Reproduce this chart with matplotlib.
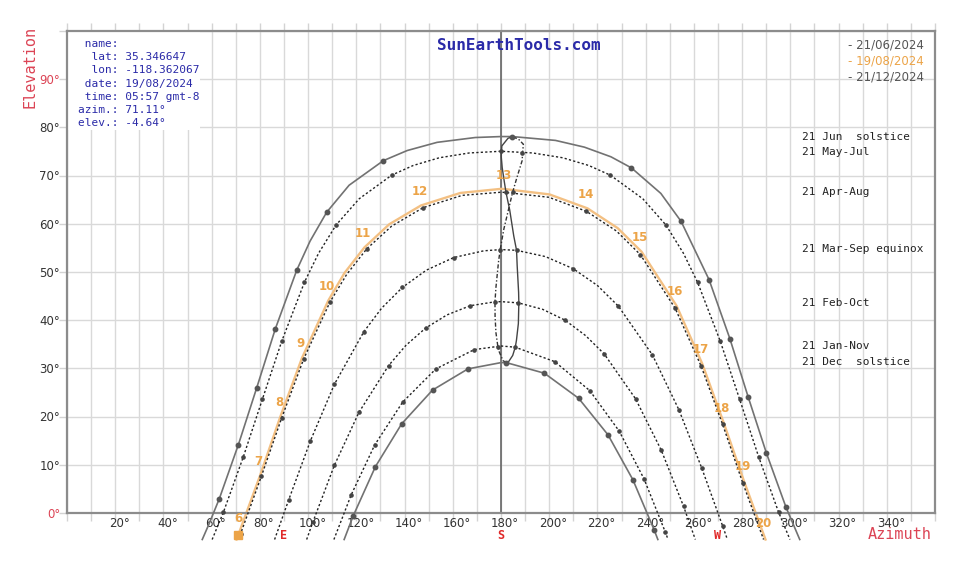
import numpy as np
import matplotlib.pyplot as plt
from matplotlib.patches import Rectangle

nan = np.nan

# sun paths: clock hour (nan = path point without hour mark),
# azimuth (deg) and elevation (deg)
jun_hour = [nan, 5.5, 6, 7, 8, 9, 10, 10.5, 11, 11.5, 12, nan, 12.5, nan, nan, 13, nan,
            13.5, nan, 14, 14.5, 15, 16, 17, 18, 19, 20, nan]
jun_az = [56.1, 58.8, 63.2, 71.1, 78.7, 86.4, 95.3, 100.8, 107.7, 117.0, 131.2, 141.1, 153.5,
          169.3, 180.0, 184.7, 202.6, 214.6, 225.6, 234.1, 246.3, 254.7, 266.3, 274.9, 282.5,
          290.1, 298.2, 303.9]
jun_el = [-5.5, -2.4, 3.0, 14.2, 26.0, 38.2, 50.4, 56.4, 62.4, 68.0, 73.1, 75.2, 76.9, 77.9,
          78.1, 78.1, 77.3, 75.9, 73.9, 71.6, 66.3, 60.5, 48.4, 36.2, 24.1, 12.4, 1.2, -5.5]

mayjul_hour = [nan, 6, 7, 8, 9, 10, 10.5, 11, 11.5, 12, nan, 12.5, nan, 13, nan, 13.5, nan,
               14, 14.5, 15, 15.5, 16, 17, 18, 19, 20, nan]
mayjul_az = [60.2, 64.9, 73.1, 81.0, 89.1, 98.5, 104.35, 111.6, 121.2, 134.7, 143.6, 154.4,
             166.9, 180.0, 193.1, 205.6, 216.4, 225.3, 238.8, 248.4, 255.65, 261.5, 270.9,
             279.0, 286.9, 295.1, 299.85]
mayjul_el = [-5.5, 0.2, 11.6, 23.55, 35.7, 47.9, 53.9, 59.75, 65.2, 70.1, 72.1, 73.7, 74.7,
             75.05, 74.7, 73.7, 72.1, 70.1, 65.2, 59.75, 53.9, 47.9, 35.7, 23.55, 11.6, 0.2, -5.5]

apraug_hour = [nan, 6, 7, 8, 9, 10, 10.5, 11, 11.5, 12, 12.5, nan, 13, 13.5, 14, 14.5, 15,
               16, 17, 18, 19, nan]
apraug_az = [71.1, 72.0, 80.6, 89.1, 98.2, 109.1, 116.0, 124.3, 134.6, 147.7, 163.9, 180.0,
             182.1, 199.9, 215.4, 227.9, 237.8, 252.2, 262.9, 271.9, 280.3, 288.9]
apraug_el = [-5.5, -4.3, 7.6, 19.8, 32.0, 43.8, 49.5, 54.8, 59.5, 63.35, 65.9, 66.55, 66.5,
             65.5, 62.6, 58.5, 53.6, 42.5, 30.6, 18.4, 6.2, -5.5]

aug19_hour = [nan, 6, 7, 8, 9, 10, 10.5, 11, 11.5, 12, 12.5, nan, 13, 13.5, 14, 14.5, 15,
              16, 17, 18, 19, 20, nan]
aug19_az = [70.3, 71.45, 80.1, 88.5, 97.5, 108.4, 115.1, 123.35, 133.65, 146.8, 163.15, 180.0,
            181.7, 200.1, 215.9, 228.4, 238.3, 252.8, 263.4, 272.3, 280.7, 289.4, 289.7]
aug19_el = [-5.5, -4.0, 7.8, 20.0, 32.2, 44.1, 49.8, 55.1, 59.9, 63.8, 66.4, 67.25, 67.2,
            66.1, 63.2, 59.1, 54.2, 43.0, 31.05, 18.8, 6.7, -5.1, -5.5]

marsep_hour = [nan, 7, 8, 9, 10, 10.5, 11, 11.5, 12, 12.5, nan, 13, 13.5, 14, 14.5, 15, 16,
               17, 18, 19, nan]
marsep_az = [86.1, 92.0, 100.9, 110.9, 123.1, 130.5, 139.1, 149.1, 160.4, 172.9, 180.0,
             186.45, 198.4, 209.9, 220.0, 228.7, 242.8, 253.8, 263.2, 272.0, 273.9]
marsep_el = [-5.5, 2.8, 14.9, 26.7, 37.6, 42.5, 46.8, 50.4, 53.0, 54.4, 54.65, 54.5, 53.2,
             50.7, 47.2, 42.9, 32.8, 21.4, 9.4, -2.8, -5.5]

febokt_hour = [nan, 7, 8, 9, 10, 10.5, 11, 11.5, 12, 12.5, nan, 13, 13.5, 14, 14.5, 15, 16,
               17, 18, nan]
febokt_az = [99.4, 102.0, 110.9, 121.1, 133.4, 140.6, 148.7, 157.6, 167.2, 177.3, 180.0,
             187.2, 197.3, 206.6, 215.1, 222.8, 235.8, 246.5, 255.7, 260.6]
febokt_el = [-5.5, -1.85, 9.9, 20.9, 30.6, 34.8, 38.35, 41.1, 43.0, 43.8, 43.85, 43.6, 42.25,
             40.0, 36.8, 33.0, 23.7, 13.0, 1.4, -5.5]

jannov_hour = [nan, 7, 8, 9, 10, 11, nan, 12, 13, 14, 15, 16, 17, nan]
jannov_az = [110.7, 117.9, 127.6, 139.2, 153.0, 168.9, 180.0, 185.9, 202.3, 216.8, 229.0,
             239.3, 248.1, 249.3]
jannov_el = [-5.5, 3.8, 14.1, 23.0, 29.9, 33.9, 34.65, 34.4, 31.4, 25.4, 17.0, 7.1, -3.9, -5.5]

dec_hour = [nan, 7, 8, 9, 10, 11, nan, 12, 13, 14, 15, 16, 17, nan]
dec_az = [114.95, 118.7, 127.9, 138.8, 151.6, 166.3, 180.0, 182.2, 198.0, 212.2, 224.4,
          234.7, 243.6, 245.05]
dec_el = [-5.5, -0.6, 9.6, 18.5, 25.5, 29.9, 31.2, 31.2, 29.0, 23.8, 16.2, 6.9, -3.6, -5.5]

# analemma, June -> December half (solid) and December -> June half (dash-dot)
ana1_az = [184.7, 182.9, 180.35, 180.07, 180.5, 181.4, 182.06, 183.6, 185.3, 186.45, 186.7,
           187.3, 187.4, 187.2, 186.4, 185.93, 184.85, 183.0, 182.17]
ana1_el = [78.06, 77.74, 76.15, 74.05, 71.65, 68.64, 66.54, 62.9, 57.45, 54.5, 51.4, 45.8,
           43.6, 39.3, 35.8, 34.43, 32.68, 31.28, 31.17]
ana2_az = [182.17, 180.8, 179.26, 178.7, 177.9, 177.55, 177.5, 177.9, 179.0, 179.67, 181.2,
           183.7, 184.8, 186.6, 188.8, 188.9, 189.3, 187.25, 184.7]
ana2_el = [31.17, 31.64, 33.45, 34.52, 37.42, 40.72, 43.8, 46.8, 52.25, 54.65, 58.95, 64.2,
           66.5, 69.6, 73.16, 74.59, 76.49, 77.56, 78.06]
ana2_mark_az = [178.7, 177.5, 179.67, 184.8, 188.9]
ana2_mark_el = [34.52, 43.8, 54.65, 66.5, 74.59]

sun_now = (71.11, -4.64)

info_lines = [" name:", "  lat: 35.346647", "  lon: -118.362067", " date: 19/08/2024",
              " time: 05:57 gmt-8", "azim.: 71.11°", "elev.: -4.64°"]
legend_dates = ["- 21/06/2024", "- 19/08/2024", "- 21/12/2024"]
day_labels = ["21 Jun  solstice", "21 May-Jul", "21 Apr-Aug", "21 Mar-Sep equinox",
              "21 Feb-Oct", "21 Jan-Nov", "21 Dec  solstice"]
day_label_el = [78.1, 74.9, 66.6, 54.8, 43.6, 34.6, 31.4]

ORANGE = '#eca448'
RED = '#dc4455'
BLUE = '#2a2aa8'
mono = 'DejaVu Sans Mono'

fig = plt.figure(figsize=(9.58, 5.74), dpi=100)
ax = fig.add_axes([67 / 958, 1 - 513 / 574, 868 / 958, 482 / 574])
ax.set_xlim(0, 360)
ax.set_ylim(0, 100)
ax.set_axisbelow(True)
ax.grid(color='#d9d9d9', lw=1)
ax.axvline(180, color='#5a5a5a', lw=1.1, zorder=1.2)
for s in ax.spines.values():
    s.set_color('#8c8c8c')
    s.set_linewidth(1.6)

ax.set_xticks(np.arange(0, 361, 10))
ax.set_yticks(np.arange(0, 101, 10))
ax.tick_params(direction='out', length=6, color='#d3d3d3', width=1,
               top=True, labelbottom=False, labelleft=False)

# axis labels drawn as text
for a in range(20, 360, 20):
    ax.annotate(f"{a}°", xy=(a, 0), xytext=(3, -7.5), textcoords='offset points',
                ha='center', va='center', fontsize=8.5, color='#333333',
                annotation_clip=False)
for e in range(0, 100, 10):
    col = RED if e in (0, 90) else '#333333'
    ax.annotate(f"{e}°", xy=(0, e), xytext=(-5, -1), textcoords='offset points',
                ha='right', va='center', fontsize=8.5, color=col, annotation_clip=False)
for a, lab in [(90, 'E'), (180, 'S'), (270, 'W')]:
    ax.annotate(lab, xy=(a, 0), xytext=(0, -16), textcoords='offset points',
                ha='center', va='center', fontsize=8.5, color='#e02828',
                fontweight='bold', family=mono, annotation_clip=False)
ax.annotate('Azimuth', xy=(345.5, 0), xytext=(0, -15.5), textcoords='offset points',
            ha='center', va='center', fontsize=11, color=RED, family=mono,
            annotation_clip=False)
fig.text(30 / 958, 1 - 67 / 574, 'Elevation', rotation=90, ha='center', va='center',
         fontsize=11, color=RED, family=mono)
fig.text(519 / 958, 1 - 45 / 574, 'SunEarthTools.com', ha='center', va='center',
         fontsize=11.5, color=BLUE, family=mono, fontweight='bold')

# info box
ax.add_patch(Rectangle((0, (513 - 130) / 482), (200 - 67) / 868, 1, transform=ax.transAxes,
                       facecolor='white', edgecolor='none', zorder=1.5))
for i, line in enumerate(info_lines):
    fig.text(78 / 958, 1 - (44 + 13.2 * i) / 574, line, ha='left', va='center',
             fontsize=8, color=BLUE, family=mono)

# legend of dates
for i, (txt, col) in enumerate(zip(legend_dates, ['#555555', ORANGE, '#555555'])):
    fig.text(848 / 958, 1 - (45 + 16 * i) / 574, txt, ha='left', va='center',
             fontsize=8.5, color=col)

# labels of the day curves
for txt, e in zip(day_labels, day_label_el):
    ax.text(305, e, txt, ha='left', va='center', fontsize=8, color='#222222', family=mono)


def draw_path(hour, az, el, ls, col, lw, ms, mcol, z=3):
    hour = np.array(hour)
    az = np.array(az)
    el = np.array(el)
    ax.plot(az, el, ls=ls, color=col, lw=lw, clip_on=False, zorder=z)
    m = np.nan_to_num(hour, nan=0.5) % 1 == 0
    ax.plot(az[m], el[m], ls='none', marker='o', ms=ms, color=mcol, clip_on=False, zorder=z + 0.1)


dots = (0, (1.6, 1.6))
draw_path(aug19_hour, aug19_az, aug19_el, '-', '#f3c083', 1.7, 0, ORANGE, z=2.5)
draw_path(jun_hour, jun_az, jun_el, '-', '#727272', 1.2, 3.2, '#555555')
draw_path(dec_hour, dec_az, dec_el, '-', '#727272', 1.2, 3.2, '#555555')
for hh, aa, ee in [(mayjul_hour, mayjul_az, mayjul_el), (apraug_hour, apraug_az, apraug_el),
                   (marsep_hour, marsep_az, marsep_el), (febokt_hour, febokt_az, febokt_el),
                   (jannov_hour, jannov_az, jannov_el)]:
    draw_path(hh, aa, ee, dots, '#222222', 1.0, 2.3, '#444444')

ax.plot(ana1_az, ana1_el, '-', color='#444444', lw=1.0, zorder=3)
ax.plot(ana2_az, ana2_el, ls=(0, (3, 1.5, 1, 1.5)), color='#333333', lw=1.0, zorder=3)
ax.plot(ana2_mark_az, ana2_mark_el, ls='none', marker='o', ms=2.3, color='#444444', zorder=3)

# hour labels on the 19/08 path
h19 = np.array(aug19_hour)
for h, a, e in zip(h19, aug19_az, aug19_el):
    if not np.isnan(h) and h % 1 == 0:
        ax.annotate(str(int(h)), xy=(a, e), xytext=(-1, 10), textcoords='offset points',
                    ha='center', va='center', fontsize=8.5, color=ORANGE,
                    fontweight='bold', annotation_clip=False, zorder=4)

ax.plot(*sun_now, ls='none', marker='s', ms=6, color=ORANGE, clip_on=False, zorder=5)

fig.savefig('out.png', dpi=100)
